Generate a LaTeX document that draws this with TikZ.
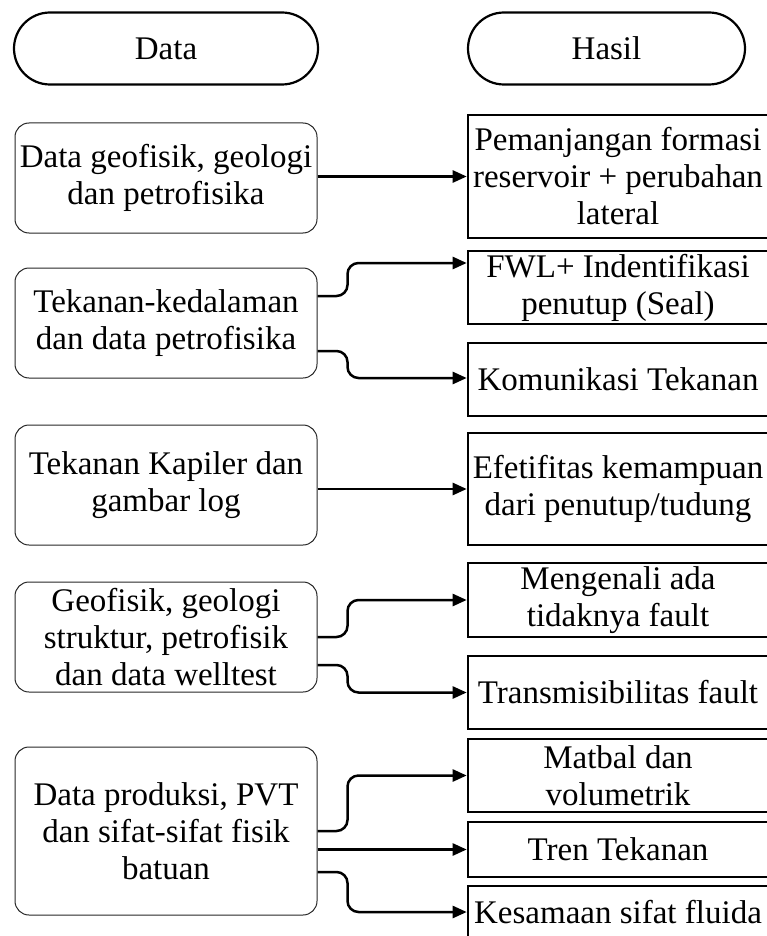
\documentclass[tikz,border=0pt]{standalone}
\usepackage{fontspec}
\setmainfont{Liberation Serif}
\usetikzlibrary{arrows.meta}
\begin{document}
\begin{tikzpicture}[x=1pt,y=-1pt,
  txt/.style={align=center, inner sep=0pt, font=\fontsize{33}{37}\selectfont},
  lbox/.style={txt, draw=black!85, line width=1pt, rounded corners=14pt, minimum width=302pt},
  rbox/.style={txt, draw=black, line width=2.6pt, minimum width=300pt},
  term/.style={txt, draw=black, line width=2.2pt, rounded corners=36pt, minimum height=72pt},
  arr/.style={line width=2.5pt, -{Triangle[length=14pt,width=12pt]}, rounded corners=11pt}]
\useasboundingbox (0,0) rectangle (766,936);
% terminals
\node[term, minimum width=304pt] (data) at (166,48.5) {Data};
\node[term, minimum width=277pt] (hasil) at (606.5,48.5) {Hasil};
% left boxes
\node[lbox, minimum height=110pt] (L1) at (166,178) {Data geofisik, geologi\\dan petrofisika};
\node[lbox, minimum height=110pt] (L2) at (166,323) {Tekanan-kedalaman\\dan data petrofisika};
\node[lbox, minimum height=120pt] (L3) at (166,485) {Tekanan Kapiler dan\\gambar log};
\node[lbox, minimum height=110pt] (L4) at (166,637) {Geofisik, geologi\\struktur, petrofisik\\dan data welltest};
\node[lbox, minimum height=168pt] (L5) at (166,831) {Data produksi, PVT\\dan sifat-sifat fisik\\batuan};
% right boxes
\node[rbox, minimum height=123pt] (R1) at (618,176.5) {Pemanjangan formasi\\reservoir + perubahan\\lateral};
\node[rbox, minimum height=73pt] (R2) at (618,287.5) {FWL+ Indentifikasi\\penutup (Seal)};
\node[rbox, minimum height=73pt] (R3) at (618,379.5) {Komunikasi Tekanan};
\node[rbox, minimum height=112pt] (R4) at (618,489) {Efetifitas kemampuan\\dari penutup/tudung};
\node[rbox, minimum height=74pt] (R5) at (618,600) {Mengenali ada\\tidaknya fault};
\node[rbox, minimum height=73pt] (R6) at (618,692.5) {Transmisibilitas fault};
\node[rbox, minimum height=73pt] (R7) at (618,775.5) {Matbal dan\\volumetrik};
\node[rbox, minimum height=55pt] (R8) at (618,849.5) {Tren Tekanan};
\node[rbox, minimum height=52pt] (R9) at (618,912) {Kesamaan sifat fluida};
% connectors
\draw[arr] (L1.east |- R1.west) -- (R1.west);
\draw[arr] ([yshift=27pt]L2.east) -- ++(30,0) |- ([yshift=24.5pt]R2.west);
\draw[arr] ([yshift=-28pt]L2.east) -- ++(30,0) |- ([yshift=1.5pt]R3.west);
\draw[arr] (L3.east |- R4.west) -- (R4.west);
\draw[arr] (L4.east) -- ++(30,0) |- (R5.west);
\draw[arr] ([yshift=-28pt]L4.east) -- ++(30,0) |- (R6.west);
\draw[arr] (L5.east) -- ++(30,0) |- (R7.west);
\draw[arr] (L5.east |- R8.west) -- (R8.west);
\draw[arr] ([yshift=-41pt]L5.east) -- ++(30,0) |- (R9.west);
\end{tikzpicture}
\end{document}
